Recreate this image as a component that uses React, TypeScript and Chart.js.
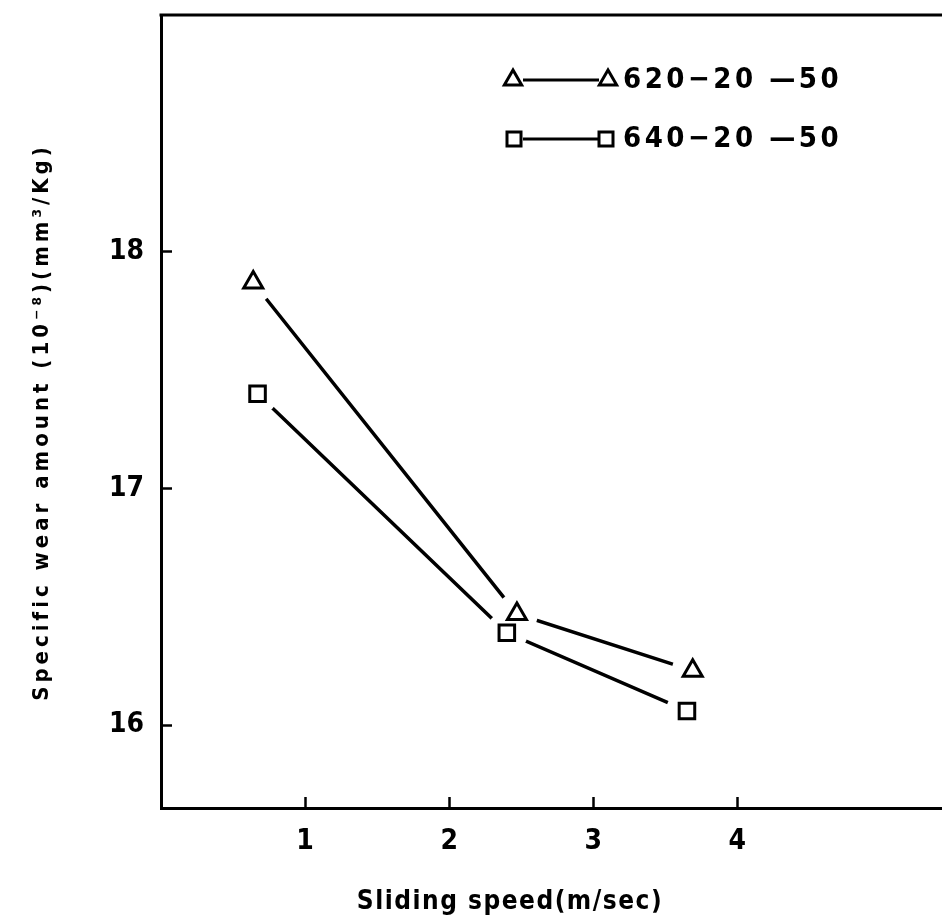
import React, { useEffect, useRef } from 'react';
import { Chart, registerables } from 'chart.js';

Chart.register(...registerables);

// ---- data ----
const xTickValues = [1, 2, 3, 4];
const yTickValues = [16, 17, 18];
const seriesNames = ['620−20 —50', '640−20 —50'];
const speed620 = [0.64, 2.47, 3.69];
const wear620 = [17.87, 16.47, 16.23];
const speed640 = [0.67, 2.4, 3.65];
const wear640 = [17.4, 16.39, 16.06];
const xTitle = 'Sliding speed(m/sec)';
const yTitle = 'Specific wear amount (10⁻⁸)(mm³/Kg)';

const FAMILY = '"DejaVu Sans Condensed", "Liberation Sans Narrow", "DejaVu Sans", sans-serif';

const toPoints = (xs: number[], ys: number[]) => xs.map((x, i) => ({ x, y: ys[i] }));

const drawTri = (ctx: CanvasRenderingContext2D, x: number, y: number, r: number) => {
  ctx.beginPath();
  ctx.moveTo(x, y - r);
  ctx.lineTo(x + r * 0.866, y + r * 0.5);
  ctx.lineTo(x - r * 0.866, y + r * 0.5);
  ctx.closePath();
  ctx.fillStyle = '#fff';
  ctx.fill();
  ctx.stroke();
};
const drawSq = (ctx: CanvasRenderingContext2D, x: number, y: number, s: number) => {
  ctx.beginPath();
  ctx.rect(x - s, y - s, 2 * s, 2 * s);
  ctx.fillStyle = '#fff';
  ctx.fill();
  ctx.stroke();
};

const zeroPadding = (s: any) => {
  s.paddingTop = 0;
  s.paddingBottom = 0;
  s.paddingLeft = 0;
  s.paddingRight = 0;
};

const decorPlugin = {
  id: 'decor',
  afterDraw(chart: any) {
    const ctx: CanvasRenderingContext2D = chart.ctx;
    const a = chart.chartArea;
    ctx.save();
    ctx.strokeStyle = '#000';
    ctx.fillStyle = '#000';
    // top frame line (to the canvas edge)
    ctx.lineWidth = 3;
    ctx.beginPath();
    ctx.moveTo(a.left - 1.5, a.top);
    ctx.lineTo(chart.width, a.top);
    ctx.stroke();

    // legend
    const rows = [a.top + 65, a.top + 124];
    const lx = a.left + 352;
    rows.forEach((ry, i) => {
      ctx.lineWidth = 3;
      ctx.strokeStyle = '#000';
      ctx.beginPath();
      ctx.moveTo(lx + 10, ry);
      ctx.lineTo(lx + 86, ry);
      ctx.stroke();
      if (i === 0) {
        drawTri(ctx, lx, ry, 10);
        drawTri(ctx, lx + 95, ry, 10);
      } else {
        drawSq(ctx, lx + 1, ry, 7);
        drawSq(ctx, lx + 93, ry, 7);
      }
      ctx.fillStyle = '#000';
      ctx.font = `bold 29px ${FAMILY}`;
      (ctx as any).letterSpacing = '3.5px';
      ctx.textAlign = 'left';
      ctx.textBaseline = 'middle';
      ctx.fillText(seriesNames[i], lx + 110, ry);
    });

    // x title
    ctx.font = `bold 26px ${FAMILY}`;
    ctx.textAlign = 'center';
    ctx.textBaseline = 'middle';
    (ctx as any).letterSpacing = '1.5px';
    ctx.fillText(xTitle, 510, 902);

    // y title
    ctx.translate(42, 422);
    ctx.rotate(-Math.PI / 2);
    ctx.font = `bold 22px ${FAMILY}`;
    (ctx as any).letterSpacing = '4px';
    ctx.fillText(yTitle, 0, 0);
    ctx.restore();
  },
};

export default function App() {
  const ref = useRef<HTMLCanvasElement>(null);
  useEffect(() => {
    if (!ref.current) return;
    const markerCommon = {
      showLine: false,
      borderColor: '#000',
      backgroundColor: '#fff',
      pointBackgroundColor: '#fff',
      pointBorderColor: '#000',
      pointBorderWidth: 3,
    };
    const maskCommon = {
      showLine: false,
      pointStyle: 'circle',
      pointRadius: 21,
      pointBorderWidth: 0,
      pointBackgroundColor: '#fff',
      pointBorderColor: '#fff',
    };
    const lineCommon = {
      showLine: true,
      borderColor: '#000',
      borderWidth: 3.5,
      pointRadius: 0,
      fill: false,
      tension: 0,
    };
    const tick = {
      color: '#000',
      font: { family: FAMILY, size: 28, weight: 'bold' as const },
      padding: 28,
      autoSkip: false,
      maxRotation: 0,
    };
    const grid = {
      drawOnChartArea: false,
      drawTicks: true,
      tickLength: -11,
      tickWidth: 2.5,
      tickColor: '#000',
    };
    const chart = new Chart(ref.current, {
      type: 'scatter',
      data: {
        datasets: [
          { ...markerCommon, label: seriesNames[0], data: toPoints(speed620, wear620), pointStyle: 'triangle', pointRadius: 11 },
          { ...markerCommon, label: seriesNames[1], data: toPoints(speed640, wear640), pointStyle: 'rect', pointRadius: 11 },
          { ...maskCommon, label: 'm1', data: toPoints(speed620, wear620) },
          { ...maskCommon, label: 'm2', data: toPoints(speed640, wear640) },
          { ...lineCommon, label: 'l1', data: toPoints(speed620, wear620) },
          { ...lineCommon, label: 'l2', data: toPoints(speed640, wear640) },
        ] as any,
      },
      options: {
        animation: false,
        responsive: false,
        devicePixelRatio: 1,
        layout: { autoPadding: false, padding: { top: 15, left: 0, right: 0, bottom: 0 } },
        plugins: { legend: { display: false }, tooltip: { enabled: false } },
        events: [],
        scales: {
          x: {
            type: 'linear',
            min: 0,
            max: 5.42,
            afterBuildTicks: (s: any) => { s.ticks = xTickValues.map((v) => ({ value: v })); },
            afterFit: (s: any) => { s.height = 113; zeroPadding(s); },
            grid,
            border: { display: true, color: '#000', width: 3 },
            ticks: tick,
          },
          y: {
            type: 'linear',
            min: 15.65,
            max: 19.0,
            afterBuildTicks: (s: any) => { s.ticks = yTickValues.map((v) => ({ value: v })); },
            afterFit: (s: any) => { s.width = 161; zeroPadding(s); },
            grid,
            border: { display: true, color: '#000', width: 3 },
            ticks: tick,
          },
        },
      } as any,
      plugins: [decorPlugin],
    });
    return () => chart.destroy();
  }, []);
  return (
    <div style={{ position: 'absolute', left: 0, top: 0, width: 942, height: 921, background: '#fff', overflow: 'hidden' }}>
      <canvas ref={ref} width={942} height={921} style={{ display: 'block', width: 942, height: 921 }} />
    </div>
  );
}
